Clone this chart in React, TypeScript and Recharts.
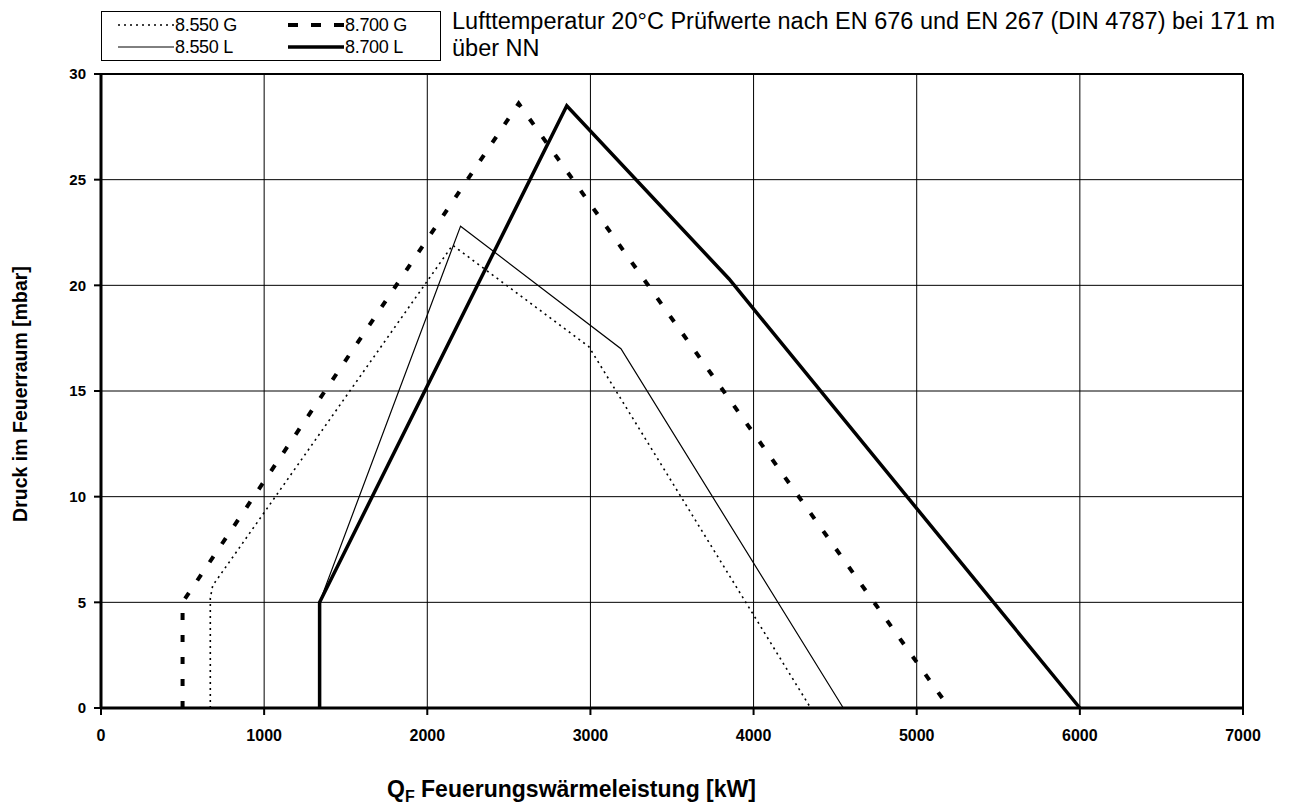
import React from 'react';
import {
  LineChart,
  Line,
  XAxis,
  YAxis,
  CartesianGrid,
  ReferenceLine,
  Label,
} from 'recharts';

const xTicks = [0, 1000, 2000, 3000, 4000, 5000, 6000, 7000];
const yTicks = [0, 5, 10, 15, 20, 25, 30];

const seriesNames = ['8.550 G', '8.700 G', '8.550 L', '8.700 L'];

// 8.550 G
const g8550Q = [670, 670, 685, 731, 2155, 2990, 4350];
const g8550P = [0, 5.2, 5.8, 6.3, 21.9, 17.1, 0];
// 8.700 G
const g8700Q = [500, 500, 2560, 5200];
const g8700P = [0, 5, 28.6, 0];
// 8.550 L
const l8550Q = [1340, 1340, 2204, 3187, 4550];
const l8550P = [0, 5, 22.8, 17.0, 0];
// 8.700 L
const l8700Q = [1340, 1340, 2855, 3850, 6000];
const l8700P = [0, 5, 28.5, 20.3, 0];

const note1 = 'Lufttemperatur 20°C Prüfwerte nach EN 676 und EN 267 (DIN 4787) bei 171 m';
const note2 = 'über NN';

const toPoints = (q: number[], p: number[]) => q.map((x, i) => ({ q: x, p: p[i] }));

const FONT = '"Liberation Sans", Arial, sans-serif';

const Sample = ({ dash, width }: { dash?: string; width: number }) => (
  <svg width={56} height={10} style={{ display: 'block' }}>
    <line x1={0} y1={5} x2={56} y2={5} stroke="#000" strokeWidth={width} strokeDasharray={dash} />
  </svg>
);

const LegendBox = () => {
  const item = (name: string, dash: string | undefined, w: number) => (
    <div style={{ display: 'flex', alignItems: 'center', height: 22 }}>
      <Sample dash={dash} width={w} />
      <span style={{ marginLeft: 1, letterSpacing: -0.3 }}>{name}</span>
    </div>
  );
  return (
    <div style={{ fontFamily: FONT, color: '#000', position: 'absolute', left: 0, top: 0, width: 1294, height: 70 }}>
      <div
        style={{
          position: 'absolute',
          left: 101,
          top: 11,
          width: 338,
          height: 48,
          border: '1px solid #000',
          fontSize: 18,
          lineHeight: '22px',
        }}
      >
        <div style={{ position: 'absolute', left: 16, top: 2 }}>
          {item(seriesNames[0], '2 4', 1.5)}
          {item(seriesNames[2], undefined, 1)}
        </div>
        <div style={{ position: 'absolute', left: 186, top: 2 }}>
          {item(seriesNames[1], '10 13', 4)}
          {item(seriesNames[3], undefined, 3.5)}
        </div>
      </div>
      <div style={{ position: 'absolute', left: 452, top: 8, fontSize: 23.5, lineHeight: '27px', whiteSpace: 'nowrap' }}>
        {note1}
        <br />
        {note2}
      </div>
    </div>
  );
};

export default function App() {
  return (
    <div style={{ position: 'absolute', left: 0, top: 0, width: 1294, height: 804, background: '#fff' }}>
      <LineChart
        width={1294}
        height={804}
        margin={{ top: 74, right: 51, left: 41, bottom: 66 }}
        style={{ fontFamily: FONT }}
      >
        <CartesianGrid stroke="#000" strokeWidth={1} />
        <XAxis
          type="number"
          dataKey="q"
          domain={[0, 7000]}
          ticks={xTicks}
          allowDuplicatedCategory={false}
          height={30}
          axisLine={{ stroke: '#000', strokeWidth: 3 }}
          tickLine={{ stroke: '#000', strokeWidth: 2 }}
          tickSize={7}
          tickMargin={15}
          tick={{ fill: '#000', fontSize: 16, fontWeight: 'bold' }}
        >
          <Label
            content={() => (
              <text x={387} y={797} fontFamily={FONT} fontSize={23} fontWeight="bold" fill="#000">
                Q
                <tspan fontSize={16} dy={5}>F</tspan>
                <tspan dy={-5}>{'  Feuerungswärmeleistung [kW]'}</tspan>
              </text>
            )}
          />
        </XAxis>
        <YAxis
          type="number"
          domain={[0, 30]}
          ticks={yTicks}
          width={60}
          axisLine={{ stroke: '#000', strokeWidth: 3 }}
          tickLine={{ stroke: '#000', strokeWidth: 2 }}
          tickSize={7}
          tickMargin={8}
          tick={{ fill: '#000', fontSize: 15, fontWeight: 'bold' }}
        >
          <Label
            content={() => (
              <text
                x={22}
                y={394}
                transform="rotate(-90 22 394)"
                textAnchor="middle"
                dominantBaseline="middle"
                fontFamily={FONT}
                fontSize={19.5}
                fontWeight="bold"
                fill="#000"
              >
                Druck im Feuerraum [mbar]
              </text>
            )}
          />
        </YAxis>
        <ReferenceLine y={30} stroke="#000" strokeWidth={2} />
        <ReferenceLine x={7000} stroke="#000" strokeWidth={2} />
        <Line
          data={toPoints(g8550Q, g8550P)}
          dataKey="p"
          name={seriesNames[0]}
          type="linear"
          stroke="#000"
          strokeWidth={1.6}
          strokeDasharray="2 4"
          dot={false}
          activeDot={false}
          isAnimationActive={false}
        />
        <Line
          data={toPoints(g8700Q, g8700P)}
          dataKey="p"
          name={seriesNames[1]}
          type="linear"
          stroke="#000"
          strokeWidth={4}
          strokeDasharray="7 15"
          dot={false}
          activeDot={false}
          isAnimationActive={false}
        />
        <Line
          data={toPoints(l8550Q, l8550P)}
          dataKey="p"
          name={seriesNames[2]}
          type="linear"
          stroke="#000"
          strokeWidth={1.2}
          dot={false}
          activeDot={false}
          isAnimationActive={false}
        />
        <Line
          data={toPoints(l8700Q, l8700P)}
          dataKey="p"
          name={seriesNames[3]}
          type="linear"
          stroke="#000"
          strokeWidth={3.5}
          dot={false}
          activeDot={false}
          isAnimationActive={false}
        />
      </LineChart>
      <LegendBox />
    </div>
  );
}
